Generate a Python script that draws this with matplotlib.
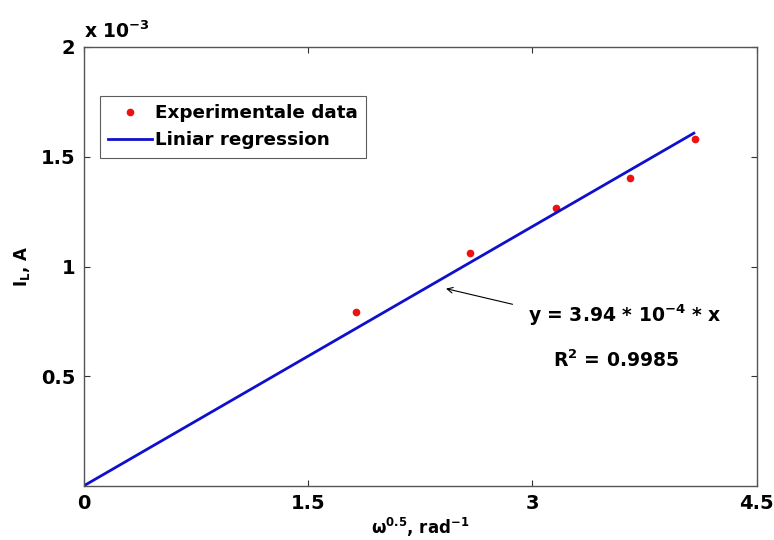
import matplotlib
matplotlib.use("Agg")
import matplotlib.pyplot as plt
import numpy as np

# Data
omega_sqrt = [1.823, 2.585, 3.160, 3.656, 4.090]
current_IL = [0.793e-3, 1.060e-3, 1.265e-3, 1.402e-3, 1.581e-3]
slope = 3.94e-4
fit_x = [0.0, 4.08]
x_ticks = [0, 1.5, 3, 4.5]
x_tick_labels = ["0", "1.5", "3", "4.5"]
y_ticks = [0.5e-3, 1.0e-3, 1.5e-3, 2.0e-3]
y_tick_labels = ["0.5", "1", "1.5", "2"]

plt.rcParams['font.family'] = ['DejaVu Sans']
plt.rcParams['font.weight'] = 'bold'
plt.rcParams['mathtext.fontset'] = 'custom'
plt.rcParams['mathtext.rm'] = 'DejaVu Sans:bold'
plt.rcParams['mathtext.it'] = 'DejaVu Sans:bold'
plt.rcParams['mathtext.bf'] = 'DejaVu Sans:bold'
plt.rcParams['mathtext.default'] = 'rm'

fig = plt.figure(figsize=(7.74, 5.40), dpi=100)
ax = fig.add_axes([83.5/774, 1-486/540, (756.7-83.5)/774, (486-47)/540])

fit_y = [slope * v for v in fit_x]
ax.plot(omega_sqrt, current_IL, linestyle='none', marker='o', ms=4.5,
        color='#ee1111', label='Experimentale data')
ax.plot(fit_x, fit_y, color='#1010cc', lw=2.0, label='Liniar regression')

ax.set_xlim(0, 4.5)
ax.set_ylim(0, 2e-3)
ax.set_xticks(x_ticks)
ax.set_xticklabels(x_tick_labels)
ax.set_yticks(y_ticks)
ax.set_yticklabels(y_tick_labels)
ax.tick_params(direction='in', length=4, width=0.8, top=True, right=True,
               labelsize=14, color='#333333', pad=6)
for lab in ax.get_xticklabels() + ax.get_yticklabels():
    lab.set_fontweight('bold')
for s in ax.spines.values():
    s.set_color('#555555')
    s.set_linewidth(1.0)

ax.set_xlabel(r'$\omega^{0.5}$, rad$^{-1}$', fontsize=12, fontweight='bold', labelpad=2)
ax.set_ylabel(r'I$_{\mathrm{L}}$, A', fontsize=12, fontweight='bold', labelpad=6)

ax.text(0.0, 1.012, r'x 10$^{-3}$', transform=ax.transAxes, fontsize=13.5,
        fontweight='bold', ha='left', va='bottom')

leg = ax.legend(loc='upper left', bbox_to_anchor=(100/774, 1-96/540),
                bbox_transform=fig.transFigure, borderaxespad=0,
                frameon=True, fancybox=False, edgecolor='#333333',
                handlelength=2.4, handletextpad=0.15, borderpad=0.45,
                labelspacing=0.5, prop={'size': 13.2, 'weight': 'bold'})
leg.get_frame().set_linewidth(0.8)

ax.annotate('', xy=(2.405, 0.902e-3), xytext=(2.886, 0.825e-3),
            arrowprops=dict(arrowstyle='->', color='black', lw=0.8))
ax.text(2.973, 0.779e-3, r'y = 3.94 * 10$^{-4}$ * x', fontsize=13.5,
        fontweight='bold', ha='left', va='center')
ax.text(3.14, 0.574e-3, r'R$^2$ = 0.9985', fontsize=13.5,
        fontweight='bold', ha='left', va='center')

fig.savefig('out.png', dpi=100)
